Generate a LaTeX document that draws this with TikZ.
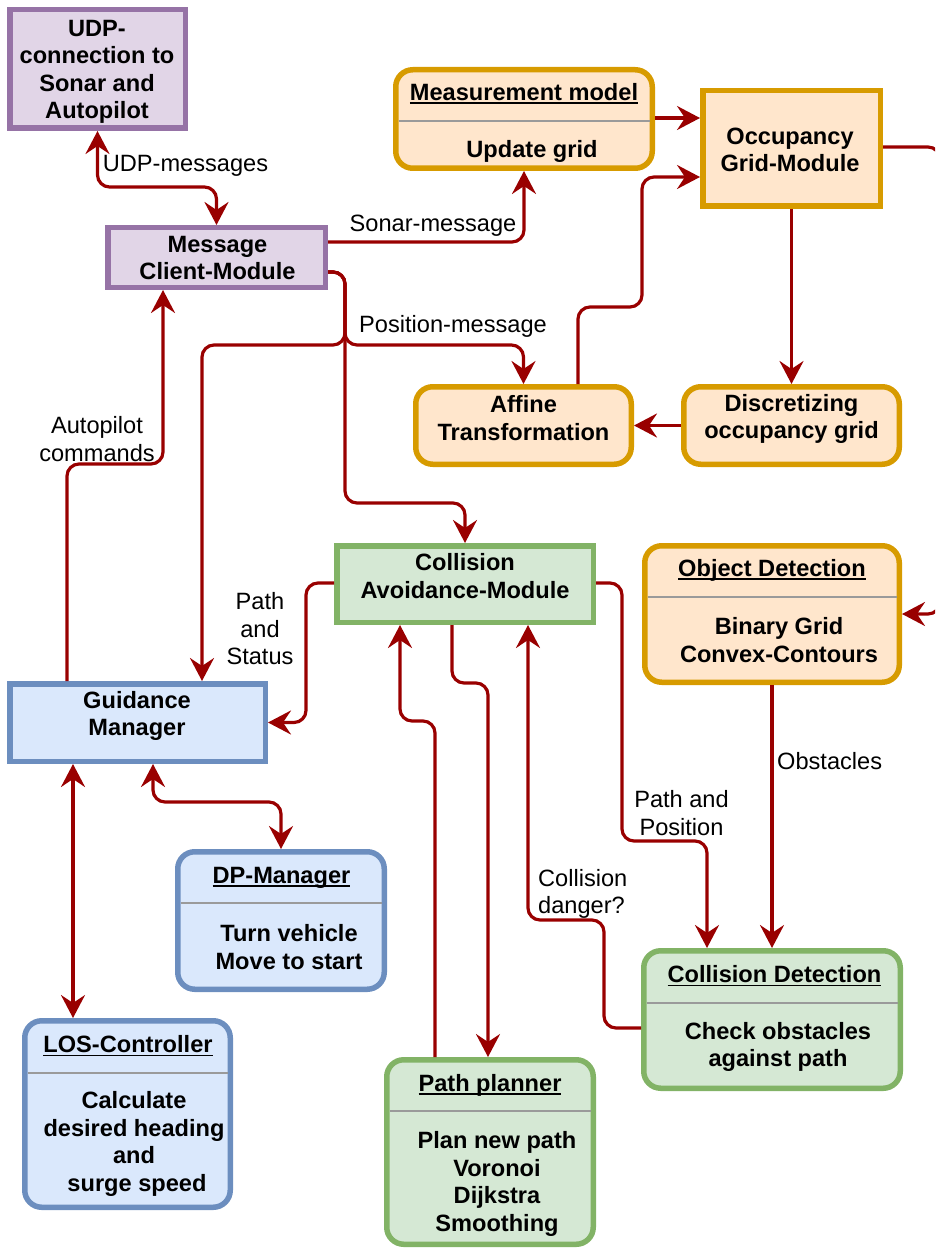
\documentclass[tikz,border=0pt]{standalone}
\usepackage{fontspec}
\setmainfont{Liberation Sans}
\usetikzlibrary{arrows.meta,calc}
\definecolor{pfill}{HTML}{E1D5E7}\definecolor{pstroke}{HTML}{9673A6}
\definecolor{ofill}{HTML}{FFE6CC}\definecolor{ostroke}{HTML}{D79B00}
\definecolor{gfill}{HTML}{D5E8D4}\definecolor{gstroke}{HTML}{82B366}
\definecolor{bfill}{HTML}{DAE8FC}\definecolor{bstroke}{HTML}{6C8EBF}
\definecolor{arrowred}{HTML}{990000}
\definecolor{sepgray}{HTML}{9A9A9A}
\newcommand{\myul}[1]{\setbox0\hbox{#1}\rlap{\rule[-3.5pt]{\wd0}{1.8pt}}\box0}
\begin{document}
\begin{tikzpicture}[x=1pt,y=-1pt,
  box/.style={rectangle, draw, line width=5.5pt, outer sep=2.75pt, inner sep=0pt},
  rbox/.style={box, rounded corners=17pt},
  purplebox/.style={box, fill=pfill, draw=pstroke},
  orangebox/.style={box, fill=ofill, draw=ostroke},
  orangerbox/.style={rbox, fill=ofill, draw=ostroke},
  greenbox/.style={box, fill=gfill, draw=gstroke},
  greenrbox/.style={rbox, fill=gfill, draw=gstroke},
  bluebox/.style={box, fill=bfill, draw=bstroke},
  bluerbox/.style={rbox, fill=bfill, draw=bstroke},
  sz/.style 2 args={minimum width=#1 pt, minimum height=#2 pt},
  bt/.style={font=\fontsize{23.6pt}{27.5pt}\selectfont\bfseries, align=center, inner sep=0pt},
  lt/.style={font=\fontsize{23.6pt}{27.5pt}\selectfont, align=center, inner sep=0pt},
  sepline/.style={draw=sepgray, line width=2pt, shorten <=5.5pt, shorten >=5.5pt},
  conn/.style={draw=arrowred, line width=3.2pt, rounded corners=12pt},
  >={Stealth[length=23pt,width=24pt,inset=8pt]}
]
\useasboundingbox (0,0) rectangle (935,1249);
\clip (0,0) rectangle (935,1249);

% ---------- boxes ----------
\node[purplebox, sz={175.5}{118.5}] (udp) at (97.5,69) {};
\node[purplebox, sz={217.5}{59.5}] (msg) at (216.5,257.5) {};
\node[orangerbox, sz={256.5}{98.5}] (meas) at (524,119) {};
\node[orangebox, sz={177.5}{115.5}] (occ) at (791.5,148.5) {};
\node[orangerbox, sz={215.5}{77.5}] (aff) at (523.5,425.5) {};
\node[orangerbox, sz={215.5}{77.5}] (disc) at (791.5,425.5) {};
\node[greenbox, sz={256.5}{76.5}] (ca) at (465,584) {};
\node[orangerbox, sz={254.5}{136.5}] (od) at (772,614) {};
\node[bluebox, sz={255.5}{77.5}] (guid) at (137.5,722.5) {};
\node[bluerbox, sz={206.5}{137.5}] (dp) at (281,920.5) {};
\node[bluerbox, sz={205.5}{186.5}] (los) at (127.5,1114) {};
\node[greenrbox, sz={206.5}{184.5}] (pp) at (490,1152) {};
\node[greenrbox, sz={256.5}{137.5}] (cd) at (772,1019.5) {};

% ---------- separators ----------
\draw[sepline] (meas.west |- 0,121) -- (meas.east |- 0,121);
\draw[sepline] (od.west |- 0,597) -- (od.east |- 0,597);
\draw[sepline] (dp.west |- 0,903) -- (dp.east |- 0,903);
\draw[sepline] (los.west |- 0,1073) -- (los.east |- 0,1073);
\draw[sepline] (pp.west |- 0,1111) -- (pp.east |- 0,1111);
\draw[sepline] (cd.west |- 0,1003) -- (cd.east |- 0,1003);

% ---------- box texts ----------
\node[bt] (udpT) at (97,72) {UDP-\\connection to\\Sonar and\\Autopilot};
\node[bt] (msgT) at (217.5,258) {Message\\Client-Module};
\node[bt] (measH) at (524,94) {\myul{Measurement model}};
\node[bt] (measB) at (532,151) {Update grid};
\node[bt] (occT) at (790,150) {Occupancy\\Grid-Module};
\node[bt] (affT) at (523.5,418) {Affine\\Transformation};
\node[bt] (discT) at (791.5,419) {Discretizing\\occupancy grid};
\node[bt] (caT) at (465,576) {Collision\\Avoidance-Module};
\node[bt] (odH) at (772,570) {\myul{Object Detection}};
\node[bt] (odB) at (779,640) {Binary Grid\\Convex-Contours};
\node[bt] (guidT) at (137,716) {Guidance\\Manager};
\node[bt] (dpH) at (281.5,878) {\myul{DP-Manager}};
\node[bt] (dpB) at (289,947) {Turn vehicle\\Move to start};
\node[bt] (losH) at (128,1046) {\myul{LOS-Controller}};
\node[bt] (losB) at (134,1144) {Calculate\\desired heading\\and\\\hspace{6pt}surge speed};
\node[bt] (ppH) at (490,1085) {\myul{Path planner}};
\node[bt] (ppB) at (497,1184) {Plan new path\\Voronoi\\Dijkstra\\Smoothing};
\node[bt] (cdH) at (774.5,976) {\myul{Collision Detection}};
\node[bt] (cdB) at (778,1047) {Check obstacles\\against path};

% ---------- connectors ----------
\coordinate (j) at (345,345);
\coordinate (k) at (345,503);
\draw[conn,<->] (udp.south) -- ++(0,56) -| (msg.north);
\draw[conn,->] (msg.east |- 0,242) -| (meas.south);
\draw[conn,->] (msg.east |- 0,272) -| (j) -| (aff.north);
\draw[conn,->] (msg.east |- 0,272) -| (j) -| ([xshift=64.5pt]guid.north);
\draw[conn,->] (msg.east |- 0,272) -| (j) -- (k) -| (ca.north);
\draw[conn,->] ([xshift=-70.5pt]guid.north) -- ++(0,-217) -| ([xshift=-53.5pt]msg.south);
\draw[conn,->] ([yshift=1pt]ca.west) -- ++(-28,0) |- (guid.east);
\draw[conn,->] ([xshift=-55pt]pp.north) -- ++(0,-336) -| ([xshift=-65pt]ca.south);
\draw[conn,->] ([xshift=-13pt]ca.south) -- ++(0,58) -| ([xshift=-2pt]pp.north);
\draw[conn,->] ([yshift=-8.5pt]cd.west) -- ++(-37,0) -- ++(0,-108) -| ([xshift=63pt]ca.south);
\draw[conn,->] ([yshift=1pt]ca.east) -- ++(26,0) -- ++(0,258) -| ([xshift=-65pt]cd.north);
\draw[conn,->] (od.south) -- (od.south |- cd.north);
\draw[conn,->] ([yshift=1pt]meas.east) -- ([yshift=1pt]meas.east -| occ.west);
\draw[conn,->] ([xshift=54.5pt]aff.north) -- ++(0,-77) -- ++(64,0) |- ([yshift=-28.5pt]occ.west);
\draw[conn,->] (occ.south) -- (disc.north);
\draw[conn,->] (disc.west) -- (aff.east);
\draw[conn,->] ([yshift=1.5pt]occ.east) -- ++(57,0) |- (od.east);
\draw[conn,<->] ([xshift=-64.5pt]guid.south) -- ([xshift=-54.5pt]los.north);
\draw[conn,<->] ([xshift=15.5pt]guid.south) -- ++(0,38) -| (dp.north);

% ---------- connector labels ----------
\node[lt] (l1) at (185.5,166) {UDP-messages};
\node[lt] (l2) at (433,226) {Sonar-message};
\node[lt] (l3) at (453,326) {Position-message};
\node[lt] (l4) at (97,439) {Autopilot\\commands};
\node[lt] (l5) at (260,629) {Path\\and\\Status};
\node[lt, align=left, anchor=west] (l6) at (538,894) {Collision\\danger?};
\node[lt] (l7) at (681.5,813) {Path and\\Position};
\node[lt, anchor=west] (l8) at (777,761) {Obstacles};
\end{tikzpicture}
\end{document}
